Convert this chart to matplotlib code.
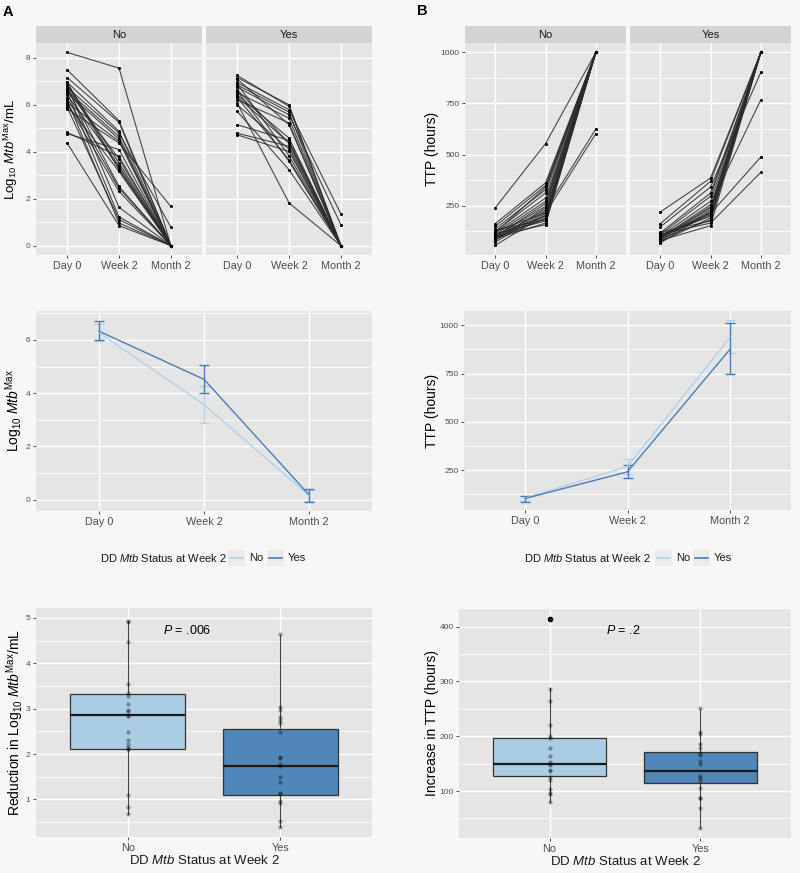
"""Two-column figure: Mtb load (A) and TTP (B) by DD Mtb status at week 2."""

import matplotlib.pyplot as plt
import numpy as np
from matplotlib.lines import Line2D
from matplotlib.patches import Rectangle
from matplotlib.ticker import MultipleLocator

plt.rcParams["font.family"] = ["Liberation Sans", "DejaVu Sans"]
plt.rcParams["mathtext.fontset"] = "custom"
plt.rcParams["mathtext.rm"] = "Liberation Sans"
plt.rcParams["mathtext.it"] = "Liberation Sans:italic"
plt.rcParams["mathtext.bf"] = "Liberation Sans:bold"

W, H = 800, 873

timepoints = ["Day 0", "Week 2", "Month 2"]
groups = ["No", "Yes"]

# --- individual log10 Mtb trajectories ---
mtb_no_day0 = [8.23, 7.49, 7.16, 6.96, 6.89, 6.81, 6.74, 6.64, 6.55, 6.50, 6.41, 6.29, 6.10,
               6.00, 5.90, 5.83, 4.82, 4.77, 4.37, 6.95, 6.70, 6.20, 6.60, 6.85, 6.05]
mtb_no_week2 = [7.56, 5.32, 5.25, 4.87, 3.52, 1.63, 4.79, 3.69, 1.22, 4.54, 3.40, 2.45, 4.44,
                3.16, 1.11, 4.37, 3.80, 4.09, 0.85, 3.30, 2.52, 0.96, 4.65, 3.23, 2.31]
mtb_no_month2 = [0, 0, 0, 0, 0, 0, 0.78, 0, 0, 0, 0, 0, 0,
                 0, 0, 1.67, 0, 0, 0, 0, 0, 0, 0, 0, 0]

mtb_yes_day0 = [7.25, 7.16, 6.95, 6.85, 6.75, 6.64, 6.52, 6.43, 6.31, 6.21,
                6.07, 6.00, 5.72, 5.15, 4.79, 4.72, 7.10, 6.90, 6.60, 6.35]
mtb_yes_week2 = [5.93, 6.00, 5.79, 5.69, 5.57, 4.37, 5.43, 4.58, 3.66, 5.22,
                 1.82, 4.11, 3.23, 4.48, 4.23, 4.01, 5.15, 3.83, 3.59, 4.37]
mtb_yes_month2 = [0, 0, 1.35, 0, 0.89, 0, 0, 0, 0, 0,
                  0, 0, 0, 0, 0, 0, 0, 0, 0, 0]

# --- individual TTP trajectories (hours) ---
ttp_no_day0 = [239, 162, 149, 136, 124, 116, 108, 100, 92, 84, 72, 56,
               110, 95, 130, 88, 102, 118, 80, 98, 105, 90, 112, 125]
ttp_no_week2 = [553, 361, 348, 328, 312, 287, 271, 247, 230, 222, 214, 206,
                198, 190, 181, 165, 157, 340, 240, 260, 200, 185, 175, 215]
ttp_no_month2 = [1000, 1000, 1000, 1000, 1000, 1000, 1000, 1000, 625, 1000, 602, 1000,
                 1000, 1000, 1000, 1000, 1000, 1000, 1000, 1000, 1000, 1000, 1000, 1000]

ttp_yes_day0 = [219, 162, 146, 116, 108, 100, 92, 84, 76, 67,
                95, 105, 88, 110, 80, 98, 72, 120, 90, 102]
ttp_yes_week2 = [385, 369, 341, 312, 296, 271, 255, 239, 230, 222,
                 211, 198, 181, 165, 152, 205, 190, 175, 245, 215]
ttp_yes_month2 = [1000, 1000, 902, 1000, 1000, 1000, 768, 1000, 1000, 1000,
                  488, 1000, 1000, 413, 1000, 1000, 1000, 1000, 1000, 1000]

# --- group means with 95% CI ---
mtb_mean_no = [6.28, 3.57, 0.15]
mtb_lo_no = [5.98, 2.89, -0.05]
mtb_hi_no = [6.60, 4.26, 0.36]
mtb_mean_yes = [6.33, 4.52, 0.18]
mtb_lo_yes = [6.01, 4.02, -0.09]
mtb_hi_yes = [6.71, 5.05, 0.41]

ttp_mean_no = [105, 268, 936]
ttp_lo_no = [92, 228, 854]
ttp_hi_no = [118, 307, 1026]
ttp_mean_yes = [103, 241, 874]
ttp_lo_yes = [86, 210, 747]
ttp_hi_yes = [117, 276, 1012]

# --- change from day 0 to week 2 ---
mtb_reduction_no = [0.67, 0.84, 1.09, 2.10, 2.12, 2.16, 2.22, 2.31, 2.48, 2.84,
                    2.87, 2.95, 2.97, 3.10, 3.28, 3.34, 3.54, 4.48, 4.92, 4.94]
mtb_reduction_yes = [0.38, 0.52, 0.91, 0.97, 1.11, 1.13, 1.39, 1.50, 1.74, 1.77,
                     1.92, 1.94, 2.49, 2.69, 2.75, 2.81, 2.98, 3.04, 4.64]
ttp_increase_no = [413, 286, 265, 220, 201, 197, 178, 164, 153, 150,
                   148, 139, 136, 125, 121, 104, 97, 95, 80]
ttp_increase_yes = [251, 207, 204, 186, 178, 169, 165, 155, 150, 127,
                    124, 119, 105, 88, 87, 69, 32]

# boxplot summaries as drawn (No, Yes)
mtb_box_q1 = [2.12, 1.09]
mtb_box_med = [2.86, 1.73]
mtb_box_q3 = [3.32, 2.55]
mtb_box_lo = [0.67, 0.38]
mtb_box_hi = [4.93, 4.62]
mtb_box_out = [[], []]

ttp_box_q1 = [127, 115]
ttp_box_med = [149, 137]
ttp_box_q3 = [197, 172]
ttp_box_lo = [80, 32]
ttp_box_hi = [287, 250]
ttp_box_out = [[413], []]

PANEL_BG = "#e5e5e5"
STRIP_BG = "#d3d3d3"
LIGHT_BLUE = "#aacde3"
DARK_BLUE = "#5087b9"
LINE_LIGHT = "#b3d2e7"
LINE_DARK = "#4a7db5"

mtb_label = r"Log$_{10}$ $\mathit{Mtb}^{\mathrm{Max}}$/mL"
status_label = r"DD $\mathit{Mtb}$ Status at Week 2"


def add_axes_px(fig, left, top, right, bottom):
    """Axes from pixel box measured from the top-left corner."""
    return fig.add_axes([left / W, 1 - bottom / H, (right - left) / W, (bottom - top) / H])


def style_panel(ax, major, minor, ylim, xlim):
    ax.set_facecolor(PANEL_BG)
    for s in ax.spines.values():
        s.set_visible(False)
    ax.set_xlim(*xlim)
    ax.set_ylim(*ylim)
    ax.yaxis.set_major_locator(MultipleLocator(major))
    ax.yaxis.set_minor_locator(MultipleLocator(minor))
    ax.grid(True, which="major", color="white", lw=1.0)
    ax.grid(True, which="minor", axis="y", color="white", lw=0.5)
    ax.set_axisbelow(True)
    ax.tick_params(which="major", length=2.5, width=0.6, color="#333333", pad=1.5,
                   labelcolor="#4d4d4d")
    ax.tick_params(axis="y", labelsize=6)
    ax.tick_params(axis="x", labelsize=7.8)
    ax.tick_params(which="minor", length=0)


def add_strip(fig, left, right, text):
    sax = add_axes_px(fig, left, 26, right, 43)
    sax.set_facecolor(STRIP_BG)
    sax.set_xticks([])
    sax.set_yticks([])
    for s in sax.spines.values():
        s.set_visible(False)
    sax.text(0.5, 0.5, text, ha="center", va="center", fontsize=8, color="#1a1a1a",
             transform=sax.transAxes)


def draw_spaghetti(ax, day0, week2, month2):
    values = np.column_stack([day0, week2, month2])
    x = np.arange(len(timepoints))
    for row in values:
        ax.plot(x, row, color="#2b2b2b", lw=0.8, alpha=0.85)
        ax.scatter(x, row, s=5, color="black", zorder=3, lw=0)
    ax.set_xticks(x)
    ax.set_xticklabels(timepoints)


def draw_means(ax, series):
    x = np.arange(len(timepoints))
    for mean, lo, hi, color in series:
        mean, lo, hi = np.array(mean), np.array(lo), np.array(hi)
        ax.errorbar(x, mean, yerr=[mean - lo, hi - mean], color=color, lw=1.0,
                    capsize=3.6, capthick=1.0)
    ax.set_xticks(x)
    ax.set_xticklabels(timepoints)


def draw_legend(fig, title_x, key_no_x, key_yes_x, y=557.7):
    fig.text(title_x / W, 1 - y / H, status_label, ha="left", va="center", fontsize=8,
             color="#1a1a1a")
    for kx, color, label in [(key_no_x, LINE_LIGHT, "No"), (key_yes_x, LINE_DARK, "Yes")]:
        fig.patches.append(Rectangle((kx / W, 1 - (y + 8) / H), 17 / W, 16 / H,
                                     transform=fig.transFigure, facecolor="#ebebeb",
                                     edgecolor="none"))
        fig.lines.append(Line2D([(kx + 2) / W, (kx + 15) / W], [1 - y / H, 1 - y / H],
                                transform=fig.transFigure, color=color, lw=1.2))
        fig.text((kx + 21) / W, 1 - y / H, label, ha="left", va="center", fontsize=8,
                 color="#1a1a1a")


def draw_box(ax, q1, med, q3, lo, hi, out, points):
    stats = []
    for i in range(len(groups)):
        stats.append({"q1": q1[i], "med": med[i], "q3": q3[i], "whislo": lo[i],
                      "whishi": hi[i], "fliers": out[i]})
    bp = ax.bxp(stats, positions=[0, 1], widths=0.75, patch_artist=True, showcaps=False,
                boxprops=dict(edgecolor="#333333", lw=0.9),
                medianprops=dict(color="#1a1a1a", lw=1.6),
                whiskerprops=dict(color="#444444", lw=0.8),
                flierprops=dict(marker="o", markerfacecolor="black", markeredgecolor="black",
                                markersize=3))
    for patch, color in zip(bp["boxes"], [LIGHT_BLUE, DARK_BLUE]):
        patch.set_facecolor(color)
    for i, vals in enumerate(points):
        ax.scatter(np.full(len(vals), i), vals, s=9, color="black", alpha=0.35, lw=0,
                   zorder=4)
    ax.set_xticks([0, 1])
    ax.set_xticklabels(groups)
    ax.set_xlabel(status_label, fontsize=9.5, color="#1a1a1a", labelpad=1)


fig = plt.figure(figsize=(W / 100, H / 100), dpi=100, facecolor="#f7f7f7")

# --- row 1: individual trajectories ---
a_no = add_axes_px(fig, 36, 43, 202, 255)
a_yes = add_axes_px(fig, 206, 43, 372, 255)
for ax, data in [(a_no, (mtb_no_day0, mtb_no_week2, mtb_no_month2)),
                 (a_yes, (mtb_yes_day0, mtb_yes_week2, mtb_yes_month2))]:
    style_panel(ax, 2, 1, (-0.4, 8.63), (-0.6, 2.6))
    draw_spaghetti(ax, *data)
a_yes.tick_params(axis="y", labelleft=False, length=0)
a_no.set_ylabel(mtb_label, fontsize=9.5, va="center")
a_no.yaxis.set_label_coords(-0.15, 0.5)
add_strip(fig, 36, 202, "No")
add_strip(fig, 206, 372, "Yes")

b_no = add_axes_px(fig, 465, 43, 626, 255)
b_yes = add_axes_px(fig, 630, 43, 791, 255)
for ax, data in [(b_no, (ttp_no_day0, ttp_no_week2, ttp_no_month2)),
                 (b_yes, (ttp_yes_day0, ttp_yes_week2, ttp_yes_month2))]:
    style_panel(ax, 250, 125, (8.8, 1045.5), (-0.6, 2.6))
    draw_spaghetti(ax, *data)
b_yes.tick_params(axis="y", labelleft=False, length=0)
b_no.set_ylabel("TTP (hours)", fontsize=10, va="center")
b_no.yaxis.set_label_coords(-0.205, 0.5)
add_strip(fig, 465, 626, "No")
add_strip(fig, 630, 791, "Yes")

# --- row 2: group means ---
a_mean = add_axes_px(fig, 36, 311, 372, 511)
style_panel(a_mean, 2, 1, (-0.43, 7.09), (-0.6, 2.6))
draw_means(a_mean, [(mtb_mean_no, mtb_lo_no, mtb_hi_no, LINE_LIGHT),
                    (mtb_mean_yes, mtb_lo_yes, mtb_hi_yes, LINE_DARK)])
a_mean.set_ylabel(r"Log$_{10}$ $\mathit{Mtb}^{\mathrm{Max}}$", fontsize=10, va="center")
a_mean.yaxis.set_label_coords(-0.066, 0.5)

b_mean = add_axes_px(fig, 464, 311, 791, 510)
style_panel(b_mean, 250, 125, (43, 1074), (-0.6, 2.6))
draw_means(b_mean, [(ttp_mean_no, ttp_lo_no, ttp_hi_no, LINE_LIGHT),
                    (ttp_mean_yes, ttp_lo_yes, ttp_hi_yes, LINE_DARK)])
b_mean.set_ylabel("TTP (hours)", fontsize=10, va="center")
b_mean.yaxis.set_label_coords(-0.098, 0.5)

draw_legend(fig, 100, 228, 267)
draw_legend(fig, 524, 655, 693)

# --- row 3: change from day 0 to week 2 ---
a_box = add_axes_px(fig, 36, 608, 372, 837)
style_panel(a_box, 1, 0.5, (0.17, 5.22), (-0.6, 1.6))
draw_box(a_box, mtb_box_q1, mtb_box_med, mtb_box_q3, mtb_box_lo, mtb_box_hi, mtb_box_out,
         [mtb_reduction_no, mtb_reduction_yes])
a_box.set_ylabel("Reduction in " + mtb_label, fontsize=10, va="center")
a_box.yaxis.set_label_coords(-0.063, 0.5)
a_box.text(0.39, 4.72, r"$\mathit{P}$ = .006", ha="center", va="center", fontsize=9)

b_box = add_axes_px(fig, 459, 609, 791, 838)
style_panel(b_box, 100, 50, (14.3, 432), (-0.6, 1.6))
draw_box(b_box, ttp_box_q1, ttp_box_med, ttp_box_q3, ttp_box_lo, ttp_box_hi, ttp_box_out,
         [ttp_increase_no, ttp_increase_yes])
b_box.set_ylabel("Increase in TTP (hours)", fontsize=10, va="center")
b_box.yaxis.set_label_coords(-0.081, 0.5)
b_box.text(0.49, 392, r"$\mathit{P}$ = .2", ha="center", va="center", fontsize=9)

fig.text(8 / W, 1 - 12 / H, "A", fontsize=10.5, fontweight="bold", ha="center", va="center")
fig.text(422 / W, 1 - 11 / H, "B", fontsize=10.5, fontweight="bold", ha="center", va="center")

fig.savefig("out.png", dpi=100, facecolor=fig.get_facecolor())
